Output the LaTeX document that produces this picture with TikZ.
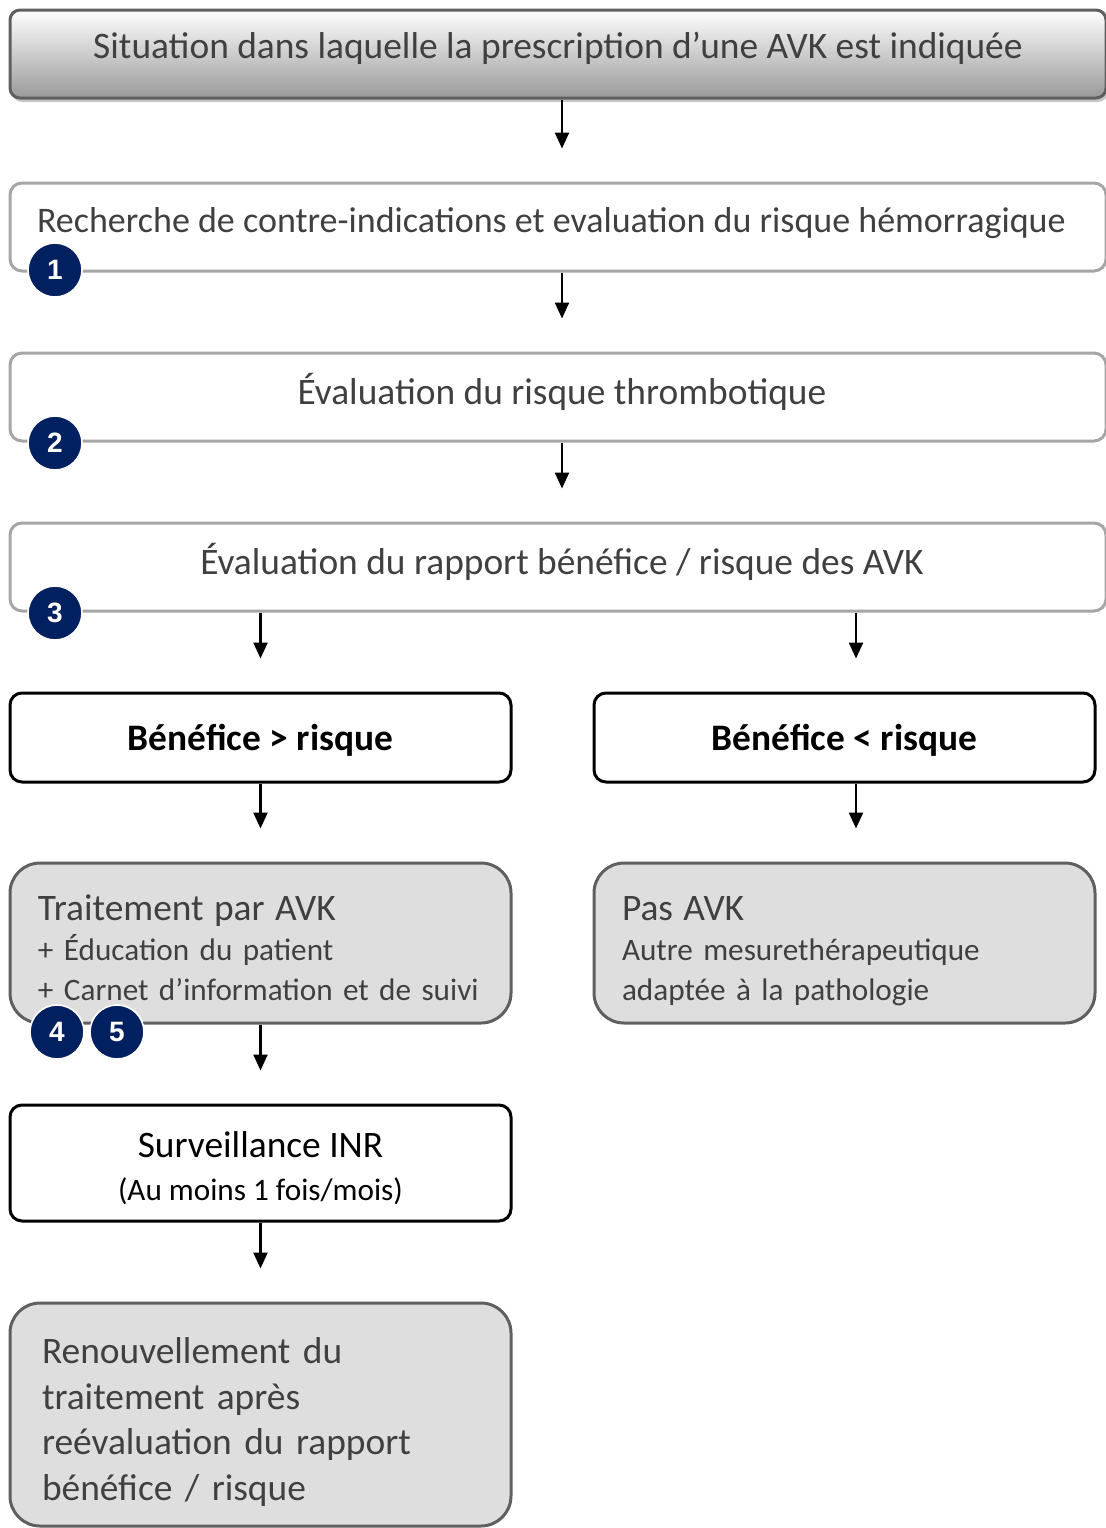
\documentclass[tikz,border=0pt]{standalone}
\usepackage{fontspec}
\setmainfont{Carlito}
\newfontfamily\badgefont{Liberation Sans}
\usetikzlibrary{arrows.meta,shadows}
\definecolor{navy}{HTML}{002060}
\definecolor{txtgray}{HTML}{404040}
\definecolor{boxgray}{HTML}{DEDEDE}
\definecolor{linegray}{HTML}{A6A6A6}
\definecolor{darkline}{HTML}{5F5F5F}
\newcommand{\bigtxt}{\fontsize{18.7}{22.7}\selectfont}
\newcommand{\smalltxt}{\fontsize{15.6}{20}\selectfont}
\newcommand{\topgap}[1]{\rule{0pt}{#1}}
\begin{document}
\begin{tikzpicture}[x=0.5pt,y=-0.5pt]
\tikzset{stepbox/.style = {draw=linegray,line width=1.5pt,rounded corners=6pt,fill=white,
  minimum width=548pt,minimum height=44pt,inner sep=0pt,text depth=8.5pt,font=\bigtxt,text=txtgray}}
\tikzset{choice/.style = {draw=black,line width=1.5pt,rounded corners=6pt,fill=white,
  minimum width=250.5pt,inner sep=0pt,text=black}}
\tikzset{result/.style = {draw=darkline,line width=1.5pt,rounded corners=15pt,fill=boxgray,
  minimum width=250.5pt,text=txtgray,align=left}}
\tikzset{badge/.style = {circle,fill=navy,draw=white,line width=0.8pt,minimum size=27pt,
  inner sep=0pt,text=white,font=\badgefont\bfseries\fontsize{14}{14}\selectfont}}
\tikzset{edge/.style = {-{Triangle[width=7pt,length=8pt]},line width=1.2pt,shorten >=16.5pt}}
\useasboundingbox (0,0) rectangle (1106,1528);
% vertices
\node[stepbox,draw=darkline,rounded corners=5pt,top color=white,bottom color=black!40,
  drop shadow={shadow xshift=1pt,shadow yshift=-2pt,fill=black!22,opacity=1}]
  (0) at (558,54) {Situation dans laquelle la prescription d’une AVK est indiquée};
\node[stepbox,font=\fontsize{18}{22}\selectfont,text depth=7pt] (1) at (558,227)
  {\makebox[521pt][l]{Recherche de contre-indications et evaluation du risque hémorragique}};
\node[stepbox] (2) at (558,397) {\hspace*{4pt}Évaluation du risque thrombotique};
\node[stepbox] (3) at (558,567) {\hspace*{4pt}Évaluation du rapport bénéfice / risque des AVK};
\node[choice,minimum height=44.5pt,font=\bigtxt\bfseries] (4) at (260.5,737.5) {\topgap{16pt}Bénéfice > risque};
\node[choice,minimum height=44.5pt,font=\bigtxt\bfseries] (5) at (844.5,737.5) {\topgap{16pt}Bénéfice < risque};
\node[result,minimum height=80pt,text width=222.5pt,inner xsep=14pt,font=\smalltxt] (6) at (260.5,943)
  {{\bigtxt\topgap{18pt}Traitement par AVK}\\+ Éducation du patient\\+ Carnet d’information et de suivi};
\node[result,minimum height=80pt,text width=222.5pt,inner xsep=14pt,font=\smalltxt] (7) at (844.5,943)
  {{\bigtxt\topgap{20.5pt}Pas AVK}\\Autre mesurethérapeutique\\adaptée à la pathologie};
\node[choice,minimum height=58pt,align=center,font=\smalltxt] (8) at (260.5,1163)
  {{\bigtxt\topgap{18pt}Surveillance INR}\\[1.5pt](Au moins 1 fois/mois)};
\node[result,minimum height=111.5pt,text width=218.5pt,inner xsep=16pt,font=\bigtxt] (9) at (260.5,1414.5)
  {\topgap{20.5pt}Renouvellement du\\traitement après\\reévaluation du rapport\\bénéfice / risque};
% numbers
\node[badge] (n1) at (55,270) {1};
\node[badge] (n2) at (55,443) {2};
\node[badge] (n3) at (55,613) {3};
\node[badge] (n4) at (57,1032) {4};
\node[badge] (n5) at (117,1032) {5};
%edges
\draw[edge,transform canvas={xshift=2pt}] (0) -- (1);
\draw[edge,transform canvas={xshift=2pt}] (1) -- (2);
\draw[edge,transform canvas={xshift=2pt}] (2) -- (3);
\draw[edge] (3.south -| 4.north) -- (4.north);
\draw[edge,transform canvas={xshift=5.75pt}] (3.south -| 5.north) -- (5.north);
\draw[edge] (4) -- (6);
\draw[edge,transform canvas={xshift=5.75pt}] (5) -- (7);
\draw[edge] (6) -- (8);
\draw[edge] (8) -- (9);
\end{tikzpicture}
\end{document}
